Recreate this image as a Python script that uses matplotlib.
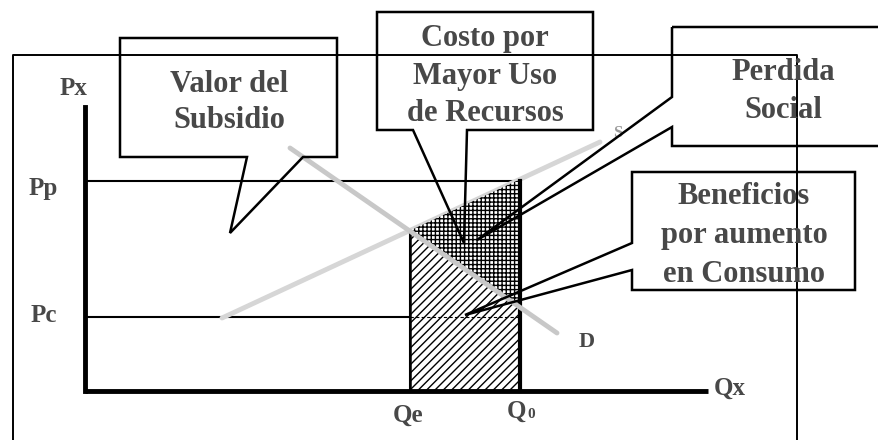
import numpy as np
import matplotlib
matplotlib.use("Agg")
import matplotlib.pyplot as plt
from matplotlib.patches import Polygon

plt.rcParams['font.family'] = ['Liberation Serif', 'DejaVu Serif']
plt.rcParams['hatch.linewidth'] = 1.0

# ---- diagram values (canvas units, y grows downward) ----
origin_x, origin_y = 85, 391
yaxis_top, xaxis_end = 107, 708
Pp, Pc = 181, 317
Qe, Q0 = 410, 520
supply_x = [222, 600]
supply_y = [318, 142]
demand_x = [290, 557]
demand_y = [148, 333]

price_labels = ["Px", "Pp", "Pc"]
price_label_pos = [(74, 95), (43, 195), (44, 322)]
qty_labels = ["Qe", "Qx"]
qty_label_pos = [(408, 422), (730, 395)]

callout_texts = [
    ["Valor del", "Subsidio"],
    ["Costo por", "Mayor Uso", "de Recursos"],
    ["Perdida", "Social"],
    ["Beneficios", "por aumento", "en Consumo"],
]
callout_centers_x = [229, 485, 783, 744]
callout_baselines = [[92, 128], [46, 84, 121], [80, 118], [204, 243, 282]]
callout_shapes = [
    [(120, 38), (337, 38), (337, 157), (303, 157), (230, 233), (247, 157), (120, 157)],
    [(377, 12), (593, 12), (593, 130), (467, 130), (464, 243), (413, 130), (377, 130)],
    [(672, 27), (890, 27), (890, 146), (672, 146), (672, 127), (477, 240), (672, 97)],
    [(632, 172), (855, 172), (855, 290), (632, 290), (632, 270), (465, 315), (632, 243)],
]

TXT = '#484848'

fig = plt.figure(figsize=(8.79, 4.4), dpi=100)
ax = fig.add_axes([0, 0, 1, 1])
ax.set_xlim(0, 879)
ax.set_ylim(440, 0)
ax.axis('off')

# outer frame
ax.plot([13, 13, 797, 797], [440, 55, 55, 440], color='black', lw=1.4, zorder=2)

def line_y(xs, ys, x):
    return np.interp(x, xs, ys) if xs[0] < xs[1] else np.interp(x, xs[::-1], ys[::-1])

sQe, sQ0 = line_y(supply_x, supply_y, Qe), line_y(supply_x, supply_y, Q0)
dQe, dQ0 = line_y(demand_x, demand_y, Qe), line_y(demand_x, demand_y, Q0)

# hatched regions
ax.add_patch(Polygon([(Qe, origin_y), (Qe, dQe), (Q0, dQ0), (Q0, origin_y)],
                     closed=True, facecolor='white', edgecolor='black',
                     hatch='////', lw=1.5, zorder=3))
ax.add_patch(Polygon([(Qe, dQe), (Q0, dQ0), (Q0, sQ0), (Qe, sQe)],
                     closed=True, facecolor='white', edgecolor='black',
                     hatch='++++', lw=0.0, zorder=3))
ax.plot([Q0, Q0], [Pp, origin_y], color='black', lw=3, zorder=4)
ax.plot([Qe, Qe], [dQe, origin_y], color='black', lw=1.8, zorder=4)

# price lines
ax.plot([origin_x, Q0], [Pp, Pp], color='black', lw=1.5, zorder=2)
ax.plot([origin_x, Qe], [Pc, Pc], color='black', lw=1.5, zorder=2)
ax.plot([Qe, Q0], [Pc, Pc], color='black', lw=0.8, ls=(0, (3, 2)), zorder=4)

# supply & demand (light gray)
ax.plot(supply_x, supply_y, color='#d6d6d6', lw=3.5, zorder=2.5, solid_capstyle='round')
ax.plot(demand_x, demand_y, color='#c8c8c8', lw=3.5, zorder=4.5, solid_capstyle='round')

# axes
ax.plot([origin_x, origin_x], [yaxis_top, origin_y], color='black', lw=3.5, zorder=5)
ax.plot([origin_x, xaxis_end], [origin_y, origin_y], color='black', lw=3.5, zorder=5,
        solid_capstyle='butt')

fs_lab = 18
for lab, (x, y) in zip(price_labels, price_label_pos):
    ax.text(x, y, lab, ha='center', va='baseline', fontsize=fs_lab, fontweight='bold', color=TXT)
for lab, (x, y) in zip(qty_labels, qty_label_pos):
    ax.text(x, y, lab, ha='center', va='baseline', fontsize=fs_lab, fontweight='bold', color=TXT)
ax.text(517, 418, "Q", ha='center', va='baseline', fontsize=fs_lab, fontweight='bold', color=TXT)
ax.text(531, 418, "0", ha='center', va='baseline', fontsize=11, fontweight='bold', color=TXT)
ax.text(587, 347, "D", ha='center', va='baseline', fontsize=16, fontweight='bold', color=TXT)
ax.text(618, 137, "S", ha='center', va='baseline', fontsize=12, fontweight='bold', color='#9a9a9a')

# callouts
for shape, lines, cx, bases in zip(callout_shapes, callout_texts, callout_centers_x, callout_baselines):
    ax.add_patch(Polygon(shape, closed=True, facecolor='none', edgecolor='black',
                         lw=1.8, joinstyle='miter', zorder=6))
    for t, b in zip(lines, bases):
        ax.text(cx, b, t, ha='center', va='baseline', fontsize=22, fontweight='bold',
                color=TXT, zorder=7)

fig.savefig('out.png', dpi=100)
